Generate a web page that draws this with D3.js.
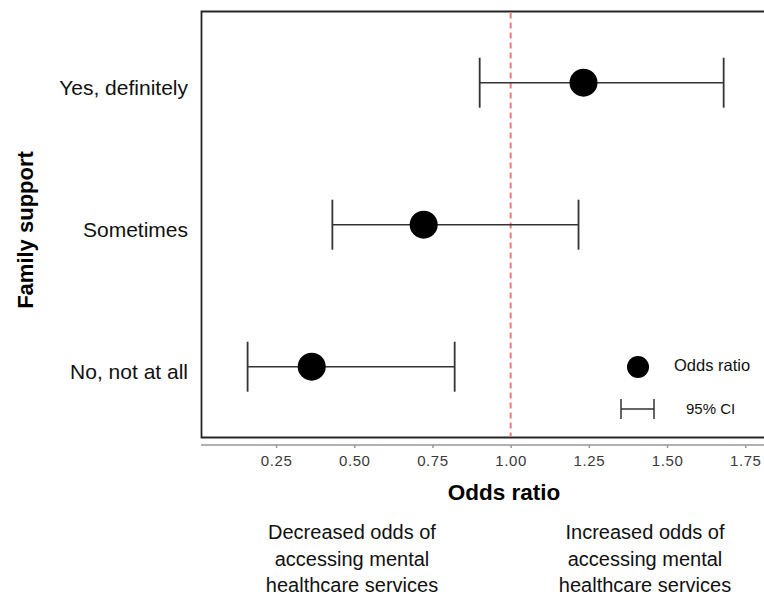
<!DOCTYPE html>
<html>
<head>
<meta charset="utf-8">
<script src="https://cdn.jsdelivr.net/npm/d3@7"></script>
<style>
  html, body { margin: 0; padding: 0; background: #fff; }
  svg { display: block; font-family: "Liberation Sans", Arial, sans-serif; }
</style>
</head>
<body>
<svg id="chart" width="764" height="597"></svg>
<script>
const categories = ["Yes, definitely", "Sometimes", "No, not at all"];
const oddsRatio = [1.233, 0.722, 0.364];
const ciLower = [0.901, 0.430, 0.159];
const ciUpper = [1.681, 1.217, 0.821];
const tickValues = [0.25, 0.50, 0.75, 1.00, 1.25, 1.50, 1.75];
const referenceValue = 1.0;
const xTitle = "Odds ratio";
const yTitle = "Family support";
const leftNote = ["Decreased odds of", "accessing mental", "healthcare services"];
const rightNote = ["Increased odds of", "accessing mental", "healthcare services"];
const legendLabels = ["Odds ratio", "95% CI"];

const svg = d3.select("#chart");
const boxLeft = 201.5, boxTop = 11.5, boxBottom = 437.5, boxRight = 770;

const x = d3.scaleLinear().domain([0.01, 1.81]).range([201, 764]);
const y = d3.scalePoint().domain(categories).range([82.7, 366.7]);

// plot frame (open on right)
svg.append("path")
  .attr("d", `M${boxRight},${boxTop} H${boxLeft} V${boxBottom} H${boxRight}`)
  .attr("fill", "none").attr("stroke", "#262626").attr("stroke-width", 1.8);

// reference line
svg.append("line")
  .attr("x1", x(referenceValue)).attr("x2", x(referenceValue))
  .attr("y1", boxTop + 1).attr("y2", boxBottom - 1)
  .attr("stroke", "#f07a7a").attr("stroke-width", 2)
  .attr("stroke-dasharray", "6,4");

// x axis
const axisY = 445;
const xAxis = d3.axisBottom(x).tickValues(tickValues).tickFormat(d3.format(".2f")).tickSize(3).tickPadding(7);
const ax = svg.append("g").attr("transform", `translate(0,${axisY})`).call(xAxis);
ax.select(".domain").attr("stroke", "#b0b0b0").attr("stroke-width", 2)
  .attr("d", `M201,0H764`);
ax.selectAll(".tick line").attr("stroke", "#999").attr("stroke-width", 1.5);
ax.selectAll(".tick text").attr("fill", "#3a3a3a").attr("font-size", 15)
  .attr("font-family", "Liberation Sans, Arial, sans-serif").attr("letter-spacing", 0.6);

// error bars
const capH = 25;
const rows = categories.map((c, i) => ({c, or: oddsRatio[i], lo: ciLower[i], hi: ciUpper[i]}));
const g = svg.append("g");
rows.forEach(r => {
  const yy = y(r.c);
  g.append("line").attr("x1", x(r.lo)).attr("x2", x(r.hi)).attr("y1", yy).attr("y2", yy)
    .attr("stroke", "#333").attr("stroke-width", 1.6);
  [r.lo, r.hi].forEach(v => {
    g.append("line").attr("x1", x(v)).attr("x2", x(v)).attr("y1", yy - capH).attr("y2", yy + capH)
      .attr("stroke", "#333").attr("stroke-width", 1.8);
  });
  g.append("circle").attr("cx", x(r.or)).attr("cy", yy).attr("r", 14).attr("fill", "#000");
});

// category labels
svg.append("g").selectAll("text").data(categories).join("text")
  .attr("x", 188).attr("y", d => y(d) + 7)
  .attr("text-anchor", "end").attr("dominant-baseline", "middle")
  .attr("font-size", 21).attr("fill", "#111").text(d => d);

// y title
svg.append("text")
  .attr("transform", `translate(27,230) rotate(-90)`)
  .attr("text-anchor", "middle").attr("dominant-baseline", "middle")
  .attr("font-size", 22).attr("font-weight", "bold").attr("fill", "#000").text(yTitle);

// x title
svg.append("text").attr("x", 504).attr("y", 494)
  .attr("text-anchor", "middle").attr("dominant-baseline", "middle")
  .attr("font-size", 22.5).attr("font-weight", "bold").attr("fill", "#000").text(xTitle);

// notes
[[leftNote, 352], [rightNote, 645]].forEach(([lines, cx]) => {
  svg.append("g").selectAll("text").data(lines).join("text")
    .attr("x", cx).attr("y", (d, i) => 534 + i * 26.5)
    .attr("text-anchor", "middle").attr("dominant-baseline", "middle")
    .attr("font-size", 20).attr("fill", "#111").text(d => d);
});

// legend
const lg = svg.append("g");
lg.append("circle").attr("cx", 638).attr("cy", 367).attr("r", 11).attr("fill", "#000");
lg.append("text").attr("x", 674).attr("y", 367).attr("dominant-baseline", "middle")
  .attr("font-size", 16.5).attr("fill", "#111").text(legendLabels[0]);
lg.append("line").attr("x1", 621).attr("x2", 654).attr("y1", 409).attr("y2", 409)
  .attr("stroke", "#333").attr("stroke-width", 1.5);
[621, 654].forEach(xx => lg.append("line").attr("x1", xx).attr("x2", xx).attr("y1", 399).attr("y2", 419)
  .attr("stroke", "#333").attr("stroke-width", 1.5));
lg.append("text").attr("x", 686).attr("y", 410).attr("dominant-baseline", "middle")
  .attr("font-size", 15).attr("fill", "#111").text(legendLabels[1]);
</script>
</body>
</html>
